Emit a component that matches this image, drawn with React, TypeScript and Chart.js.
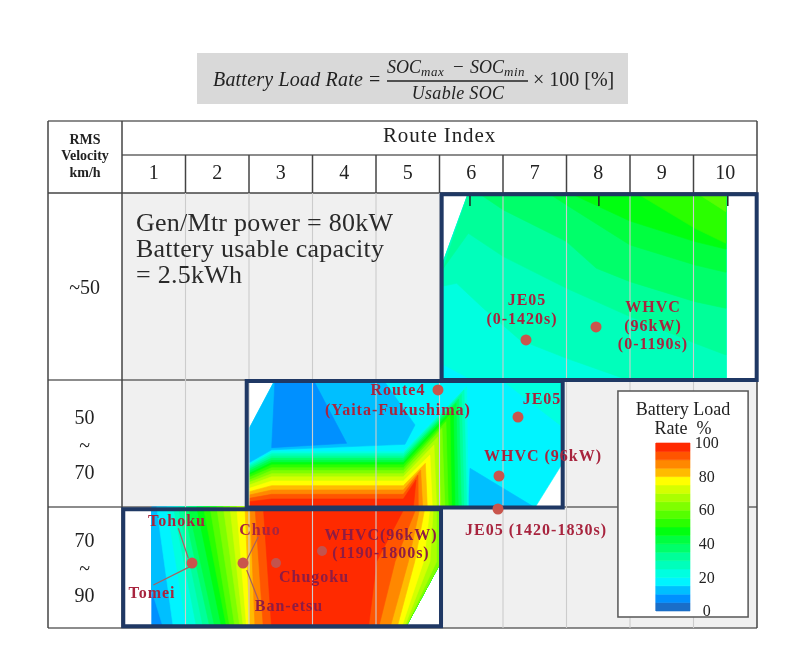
import React, { useEffect, useRef } from "react";
import { Chart, registerables, LinearScale } from "chart.js";

class PiecewiseScale extends LinearScale {
  static id = "piecewise";
  static defaults = LinearScale.defaults;
  getPixelForValue(value: number) {
    if (value === null || value === undefined) return NaN;
    const s = VELOCITY_STOPS, f = STOP_FRACTIONS;
    let i = 0;
    while (i < s.length - 2 && value > s[i + 1]) i++;
    const d = f[i] + ((value - s[i]) / (s[i + 1] - s[i])) * (f[i + 1] - f[i]);
    return (this as any).getPixelForDecimal(d);
  }
}
Chart.register(...registerables, PiecewiseScale as any);

const VELOCITY_STOPS = [30, 50, 70, 90];
const STOP_FRACTIONS = [0, 187 / 435, 314 / 435, 1];
const ROUTES = [1, 2, 3, 4, 5, 6, 7, 8, 9, 10];
const VELOCITY_TICKS = [40.2, 60.45, 80.35];
const VELOCITY_LABELS = [["~50"], ["50", "~", "70"], ["70", "~", "90"]];

// colour of each 5 % band, from 0-5 upward
const BAND_COLORS = ["#1a6ec8", "#0090ff", "#00bfff", "#00f4ff", "#00ffe0", "#00ffbb", "#00ff99", "#00ff6a", "#00ff40", "#00ff10",
  "#2aff00", "#55ff00", "#7fff00", "#aaff00", "#d4ff00", "#ffff00", "#ffbb00", "#ff8800", "#ff5500", "#ff2a00"];

type P = [number, number];
// Panel 1 (route 6-10, velocity up to 50): region at or above each level
const P1_DOMAIN: P[] = [[5.52, 38.05], [5.954, 30], [10.01, 30], [10.01, 50.1], [5.52, 50.1]];
const P1_L20: P[] = [[5.52, 38.05], [5.954, 30], [10.01, 30], [10.01, 50.1], [6.03, 50.1], [5.52, 48.21]];
const P1_L25: P[] = [[5.52, 38.05], [5.954, 30], [10.01, 30], [10.01, 50.1], [8.5, 50.1], [7.5, 47.68], [6.767, 45.72], [6.19, 42.33], [5.77, 39.66], [5.52, 40]];
const P1_L30: P[] = [[5.56, 38.05], [5.954, 34.31], [6.505, 36.8], [7.5, 40.19], [8.5, 43.22], [9.523, 46.07], [10.01, 47.32], [10.01, 30], [5.954, 30]];
const P1_L35: P[] = [[6.11, 30], [6.505, 31.81], [7.5, 35.2], [7.97, 38.05], [8.5, 39.48], [9.523, 41.62], [10.01, 42.33], [10.01, 30]];
const P1_L40: P[] = [[7.21, 30], [7.5, 31.28], [8.5, 35.56], [9.523, 37.7], [10.01, 38.48], [10.01, 30]];
const P1_L45: P[] = [[7.55, 30], [8.5, 33], [9.523, 35.2], [10.01, 36], [10.01, 30]];
const P1_L50: P[] = [[8.6, 30], [9.523, 33.78], [10.01, 35.38], [10.01, 30]];
const P1_L55: P[] = [[9.55, 30], [10.01, 32], [10.01, 30]];

// Panel 2 (route 3-7, velocity 50-70)
const P2_DOMAIN: P[] = [[2.505, 57.61], [2.909, 50], [7.42, 50], [7.42, 63.4], [7.004, 70.1], [2.505, 70.1]];
const P2_PALE: P[] = [[2.505, 57.61], [2.909, 50], [4.615, 50], [5.114, 57.08], [4.956, 60.13], [2.857, 61], [2.505, 63]];
const P2_BLUE: P[] = [[2.909, 50], [3.513, 50], [4.038, 59.97], [2.857, 60.65]];
const P2_FOOT_PALE: P[] = [[5.98, 63.9], [7.004, 70.1], [5.954, 70.1]];
const P2_CORNER: P[] = [[6.479, 50], [7.397, 57.08], [7.42, 50]];
const P2_LEVELS = [20, 25, 30, 35, 40, 45, 50, 55, 60, 65, 70, 75, 80, 85, 90, 95];
const P2_EDGE_V = [63.28, 63.49, 63.75, 64.01, 64.33, 64.7, 64.96, 65.33, 65.75, 66.11, 66.53, 67.06, 67.58, 68.11, 68.63, 69.16];
const P2_SHELF_V = [61.3, 61.6, 61.95, 62.3, 62.65, 63, 63.35, 63.8, 64.25, 64.75, 65.25, 65.9, 66.64, 67.32, 68, 68.74];
const P2_PEAK_R = [5.928, 5.886, 5.844, 5.801, 5.76, 5.718, 5.665, 5.602, 5.539, 5.476, 5.413, 5.35, 5.277, 5.203, 5.161, 5.13];
const P2_PEAK_V = [51.05, 51.57, 52.25, 52.99, 53.67, 54.46, 55.51, 56.56, 57.61, 58.92, 60.23, 61.81, 63.12, 64.17, 64.96, 65.75];
const P2_FOOT_R = [5.954, 5.928, 5.886, 5.844, 5.796, 5.744, 5.691, 5.639, 5.586, 5.523, 5.455, 5.387, 5.308, 5.235, 5.166, 5.088];

// Panel 3 (route 1-5, velocity 70-90)
const P3_DOMAIN: P[] = [[0.967, 70], [5.51, 70], [5.51, 79.3], [4.96, 90], [0.967, 90]];
const P3_LEVELS = [10, 15, 20, 25, 30, 35, 40, 45, 50, 55, 60, 65, 70, 75, 80, 85, 90, 95];
const P3_LEFT_TOP = [0.967, 1.046, 1.204, 1.309, 1.387, 1.466, 1.545, 1.676, 1.781, 1.886, 1.991, 2.096, 2.201, 2.306, 2.437, 2.516, 2.595, 2.726];
const P3_LEFT_BOTTOM = [1.151, 1.309, 1.519, 1.676, 1.781, 1.886, 1.965, 2.07, 2.149, 2.201, 2.28, 2.359, 2.411, 2.463, 2.516, 2.595, 2.726, 2.857];
const P3_RIGHT_LEVELS = [65, 70, 75, 80, 85, 90, 95];
const P3_RIGHT_TOP = [5.456, 5.403, 5.351, 5.272, 5.193, 5.14, 4.957];
const P3_RIGHT_MID = [5.456, 5.35, 5.25, 5.11, 5.01, 4.8, 4.51];
const P3_RIGHT_BOTTOM = [4.96, 4.94, 4.9, 4.83, 4.72, 4.54, 4.38];

const FRAME_1: P[] = [[5.534, 30.14], [10.495, 30.14], [10.495, 50], [5.534, 50]];
const FRAME_2: P[] = [[2.464, 50.16], [7.44, 50.16], [7.44, 70.1], [2.464, 70.1]];
const FRAME_3: P[] = [[0.52, 70.38], [5.524, 70.38], [5.524, 89.7], [0.52, 89.7]];

const SOLID_POINTS: P[] = [[6.862, 45.72], [7.965, 44.33], [5.476, 51.57], [6.736, 55.83], [6.437, 65.12], [6.421, 70.33], [1.602, 79.26], [2.406, 79.26]];
const FAINT_POINTS: P[] = [[2.925, 79.26], [3.65, 77.27]];
const LEADERS: P[][] = [
  [[1.387, 73.52], [1.545, 78.48]],
  [[0.994, 82.89], [1.571, 79.86]],
  [[2.647, 74.9], [2.464, 78.76]],
  [[2.464, 80.41], [2.647, 85.37]],
];

const NOTE_TEXT = ["Gen/Mtr power = 80kW", "Battery usable capacity", "= 2.5kWh"];
const NOTE_V = [33.32, 36.1, 38.88];
const NAME_TEXT = ["JE05", "(0-1420s)", "WHVC", "(96kW)", "(0-1190s)", "Route4", "(Yaita-Fukushima)", "JE05", "WHVC (96kW)", "JE05 (1420-1830s)", "Tohoku", "Chuo", "Tomei"];
const NAME_R = [6.878, 6.799, 8.862, 8.862, 8.862, 4.846, 4.846, 7.114, 7.13, 7.02, 1.366, 2.673, 0.972];
const NAME_V = [41.55, 43.58, 42.3, 44.33, 46.26, 51.73, 54.88, 53.15, 62.13, 73.97, 72.48, 73.97, 84.38];
const DARK_TEXT = ["Chugoku", "WHVC(96kW)", "(1190-1800s)", "Ban-etsu"];
const DARK_R = [3.524, 4.579, 4.579, 3.13];
const DARK_V = [81.74, 74.79, 77.77, 86.53];

const LEGEND_TITLE = ["Battery Load", "Rate  %"];
const LEGEND_TITLE_VALUES = [119.6, 108.3];
const LEGEND_TICKS = [100, 80, 60, 40, 20, 0];
const LEGEND_BOX: P[] = [[8.31, 130.95], [10.36, 130.95], [10.36, -3.57], [8.31, -3.57]];
const LEGEND_BAR_ROUTES = [8.91, 9.445];

const STRAY_TICKS = [5.98, 8.01, 10.04];

const SERIF = '"Liberation Serif", serif';
const toPts = (a: P[]) => a.map(([x, y]) => ({ x, y }));
const color = (level: number) => BAND_COLORS[Math.floor(level / 5)];

function buildDatasets() {
  const list: any[] = [];
  const fillSet = (pts: P[], c: string, yAxisID = "y") =>
    list.push({ data: toPts([...pts, pts[0]]), fill: "shape", backgroundColor: c, borderColor: c, borderWidth: 0.6, pointRadius: 0, tension: 0, yAxisID });
  const lineSet = (pts: P[], c: string, w: number, yAxisID = "y") =>
    list.push({ data: toPts(pts), fill: false, borderColor: c, borderWidth: w, pointRadius: 0, tension: 0, yAxisID, clip: false });

  // White ground inside the frames
  [FRAME_1, FRAME_3, FRAME_2].forEach((f) => fillSet(f, "#ffffff"));

  // Panel 1
  fillSet(P1_DOMAIN, color(15));
  ([[20, P1_L20], [25, P1_L25], [30, P1_L30], [35, P1_L35], [40, P1_L40], [45, P1_L45], [50, P1_L50], [55, P1_L55]] as [number, P[]][])
    .forEach(([l, p]) => fillSet(p, color(l)));
  STRAY_TICKS.forEach((r) => lineSet([[r, 30.2], [r, 31.4]], "#222", 1.5));

  // Panel 2
  fillSet(P2_DOMAIN, color(15));
  fillSet(P2_PALE, color(10));
  fillSet(P2_BLUE, color(5));
  fillSet(P2_FOOT_PALE, color(10));
  fillSet(P2_CORNER, color(20));
  P2_LEVELS.forEach((l, i) =>
    fillSet([[2.505, 70.1], [2.505, P2_EDGE_V[i]], [2.857, P2_SHELF_V[i]], [4.93, P2_SHELF_V[i]], [P2_PEAK_R[i], P2_PEAK_V[i]], [P2_FOOT_R[i], 70.1]], color(l)));

  // Panel 3
  fillSet(P3_DOMAIN, color(5));
  P3_LEVELS.forEach((l, i) => {
    const j = P3_RIGHT_LEVELS.indexOf(l);
    const right: P[] = j >= 0
      ? [[P3_RIGHT_BOTTOM[j], 90], [P3_RIGHT_MID[j], 79], [P3_RIGHT_TOP[j], 70]]
      : [[4.96, 90], [5.51, 79.3], [5.51, 70]];
    const bottomLeft: P[] = l === 10 ? [[0.967, 83.7], [P3_LEFT_BOTTOM[i], 90]] : [[P3_LEFT_BOTTOM[i], 90]];
    fillSet([[P3_LEFT_TOP[i], 70], ...bottomLeft, ...right], color(l));
  });

  // Column rules run over the contours
  ROUTES.slice(0, -1).forEach((r) => lineSet([[r + 0.5, 30], [r + 0.5, 90]], "#cccccc", 1.1));

  // Frames
  [FRAME_1, FRAME_3, FRAME_2].forEach((f) => {
    list.push({ data: toPts([...f, f[0], f[1]]), fill: false, borderColor: "#1f3864", borderWidth: 4, pointRadius: 0, tension: 0, clip: false, borderJoinStyle: "miter" });
  });

  // Leaders and measurement points
  LEADERS.forEach((l) => lineSet(l, "#a8605f", 1.2));
  list.push({ data: toPts(SOLID_POINTS), showLine: false, pointRadius: 5.5, pointBackgroundColor: "#c9554c", pointBorderWidth: 0, clip: false });
  list.push({ data: toPts(FAINT_POINTS), showLine: false, pointRadius: 5, pointBackgroundColor: "rgba(185,90,90,0.85)", pointBorderWidth: 0, clip: false });

  // Legend
  fillSet(LEGEND_BOX, "#ffffff", "legendY");
  lineSet([...LEGEND_BOX, LEGEND_BOX[0], LEGEND_BOX[1]], "#555", 1.5, "legendY");
  BAND_COLORS.forEach((c, i) => {
    const [a, b] = LEGEND_BAR_ROUTES;
    const lo = i * 5, hi = lo + 5;
    fillSet([[a, lo], [b, lo], [b, hi], [a, hi]], c, "legendY");
  });

  list.forEach((d, i) => { d.order = -i; });
  return list;
}

const tablePlugin = {
  id: "table",
  beforeDatasetsDraw(chart: any) {
    const { ctx, chartArea: a, scales } = chart;
    const x = scales.x, y = scales.y;
    ctx.save();
    ctx.fillStyle = "#f0f0f0";
    ctx.fillRect(a.left, a.top, a.right - a.left, a.bottom - a.top);
    const hline = (py: number, l: number, r: number, c = "#555", w = 1.5) => {
      ctx.strokeStyle = c; ctx.lineWidth = w;
      ctx.beginPath(); ctx.moveTo(l, py); ctx.lineTo(r, py); ctx.stroke();
    };
    const vline = (px: number, t: number, b: number, c = "#444", w = 1.5) => {
      ctx.strokeStyle = c; ctx.lineWidth = w;
      ctx.beginPath(); ctx.moveTo(px, t); ctx.lineTo(px, b); ctx.stroke();
    };
    const outerL = 48, top = 121, sub = 155;
    hline(top, outerL, a.right, "#666");
    hline(sub, a.left, a.right, "#666");
    hline(a.top, outerL, a.right, "#444");
    [50, 70].forEach((v) => hline(y.getPixelForValue(v), outerL, a.right, "#666"));
    hline(a.bottom, outerL, a.right, "#666");
    vline(outerL, top, a.bottom);
    vline(a.left, top, a.bottom);
    vline(a.right, top, a.bottom);
    ROUTES.slice(0, -1).forEach((r) => vline(x.getPixelForValue(r + 0.5), sub, a.top));
    ctx.restore();
  },
  afterDatasetsDraw(chart: any) {
    const { ctx, scales } = chart;
    const x = scales.x, y = scales.y, ly = scales.legendY;
    const spacing = (v: string) => { (ctx as any).letterSpacing = v; };
    ctx.save();
    ctx.textBaseline = "middle";
    // Header
    ctx.fillStyle = "#222"; ctx.textAlign = "center";
    ctx.font = `21px ${SERIF}`;
    spacing("0.9px");
    ctx.fillText("Route Index", (x.left + x.right) / 2, 136);
    spacing("0px");
    ctx.font = `bold 14px ${SERIF}`;
    ["RMS", "Velocity", "km/h"].forEach((t, i) => ctx.fillText(t, 85, 140 + i * 16.5));
    // Note
    ctx.font = `26px ${SERIF}`; ctx.textAlign = "left"; ctx.fillStyle = "#2a2a2a";
    spacing("0.25px");
    NOTE_TEXT.forEach((t, i) => ctx.fillText(t, x.getPixelForValue(0.72), y.getPixelForValue(NOTE_V[i])));
    // Names
    ctx.textAlign = "center";
    ctx.font = `bold 16px ${SERIF}`;
    spacing("1px");
    ctx.fillStyle = "#a8243e";
    NAME_TEXT.forEach((t, i) => ctx.fillText(t, x.getPixelForValue(NAME_R[i]), y.getPixelForValue(NAME_V[i])));
    ctx.fillStyle = "#8e1c44";
    DARK_TEXT.forEach((t, i) => ctx.fillText(t, x.getPixelForValue(DARK_R[i]), y.getPixelForValue(DARK_V[i])));
    spacing("0px");
    // Legend
    ctx.fillStyle = "#222";
    ctx.font = `18px ${SERIF}`;
    LEGEND_TITLE.forEach((t, i) => ctx.fillText(t, x.getPixelForValue(9.335), ly.getPixelForValue(LEGEND_TITLE_VALUES[i])));
    ctx.font = `16px ${SERIF}`;
    LEGEND_TICKS.forEach((v) => ctx.fillText(String(v), x.getPixelForValue(9.71), ly.getPixelForValue(v) + 1));
    // Formula box
    ctx.fillStyle = "#d9d9d9";
    ctx.fillRect(197, 53, 431, 51);
    ctx.fillStyle = "#222";
    ctx.textAlign = "left";
    ctx.font = `italic 20px ${SERIF}`;
    spacing("0.2px");
    ctx.fillText("Battery Load Rate", 213, 81);
    spacing("0px");
    ctx.font = `20px ${SERIF}`;
    ctx.fillText("=", 369, 81);
    ctx.font = `italic 18px ${SERIF}`;
    ctx.fillText("SOC", 387, 68);
    ctx.fillText("SOC", 470, 68);
    ctx.font = `italic 13px ${SERIF}`;
    spacing("0.5px");
    ctx.fillText("max", 421, 73);
    ctx.fillText("min", 504, 73);
    spacing("0px");
    ctx.font = `19px ${SERIF}`;
    ctx.fillText("\u2212", 453, 68);
    ctx.font = `italic 18px ${SERIF}`;
    spacing("0.3px");
    ctx.textAlign = "center";
    ctx.fillText("Usable SOC", 458, 94);
    spacing("0px");
    ctx.textAlign = "left";
    ctx.font = `20px ${SERIF}`;
    ctx.fillText("\u00d7 100 [%]", 533, 81);
    ctx.strokeStyle = "#222"; ctx.lineWidth = 1.3;
    ctx.beginPath(); ctx.moveTo(387, 81); ctx.lineTo(528, 81); ctx.stroke();
    ctx.restore();
  },
};

export default function App() {
  const ref = useRef<HTMLCanvasElement>(null);
  useEffect(() => {
    const chart = new Chart(ref.current as HTMLCanvasElement, {
      type: "line",
      data: { datasets: buildDatasets() },
      plugins: [tablePlugin as any],
      options: {
        animation: false,
        responsive: false,
        devicePixelRatio: 1,
        layout: { padding: { left: 48, top: 155, right: 43, bottom: 38 } },
        plugins: { legend: { display: false }, title: { display: false }, tooltip: { enabled: false } },
        scales: {
          x: {
            type: "linear",
            position: "top",
            min: 0.5,
            max: 10.5,
            grid: { display: false, drawTicks: false },
            border: { display: false },
            afterBuildTicks: (axis: any) => { axis.ticks = ROUTES.map((value) => ({ value })); },
            afterFit: (axis: any) => { axis.height = 38; },
            ticks: { autoSkip: false, maxRotation: 0, padding: 7, color: "#222", font: { family: SERIF, size: 20 }, callback: (v: any) => String(v) },
          },
          y: {
            type: "piecewise",
            position: "left",
            reverse: true,
            min: 30,
            max: 90,
            grid: { display: false, drawTicks: false },
            border: { display: false },
            afterBuildTicks: (axis: any) => { axis.ticks = VELOCITY_TICKS.map((value) => ({ value })); },
            afterFit: (axis: any) => { axis.width = 74; },
            ticks: {
              autoSkip: false, crossAlign: "center", padding: 22, color: "#222",
              font: { family: SERIF, size: 20, lineHeight: 1.38 },
              callback: (v: any) => VELOCITY_LABELS[VELOCITY_TICKS.indexOf(v)],
            },
          } as any,
          legendY: { type: "linear", display: false, min: -10.12, max: 248.81 },
        },
      } as any,
    });
    return () => chart.destroy();
  }, []);
  return (
    <canvas ref={ref} width={800} height={666} style={{ position: "absolute", left: 0, top: 0, width: 800, height: 666 }} />
  );
}
